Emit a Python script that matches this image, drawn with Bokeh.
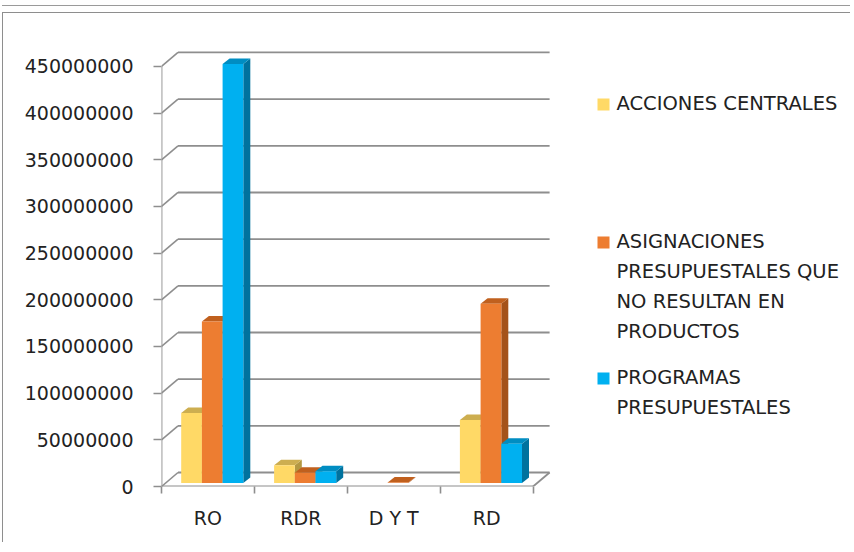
from bokeh.plotting import figure
from bokeh.models import FixedTicker, NumeralTickFormatter, Range1d
from bokeh.core.properties import value
from bokeh.embed import file_html
from bokeh.resources import INLINE

# ---------------- data ----------------
CATEGORIES = ["RO", "RDR", "D Y T", "RD"]
SERIES = ["ACCIONES CENTRALES",
          "ASIGNACIONES PRESUPUESTALES QUE NO RESULTAN EN PRODUCTOS",
          "PROGRAMAS PRESUPUESTALES"]
LEGEND_LINES = [["ACCIONES CENTRALES"],
                ["ASIGNACIONES", "PRESUPUESTALES QUE", "NO RESULTAN EN", "PRODUCTOS"],
                ["PROGRAMAS", "PRESUPUESTALES"]]
ACCIONES_CENTRALES = [75000000, 19000000, 0, 67500000]
ASIGNACIONES = [173000000, 11000000, 600000, 192000000]
PROGRAMAS = [449000000, 12500000, 0, 42000000]
Y_TICKS = [0, 50000000, 100000000, 150000000, 200000000, 250000000,
           300000000, 350000000, 400000000, 450000000]

SERIES_VALUES = [ACCIONES_CENTRALES, ASIGNACIONES, PROGRAMAS]
FRONT = ["#FFD966", "#ED7D31", "#00B0F0"]
TOP = ["#CDAE50", "#C0601E", "#008DC2"]
SIDE = ["#B39842", "#A4521A", "#00729E"]
GRID = "#8E8E8E"
TXT = "#222222"
FONT = "DejaVu Sans"

# ---------------- layout (pixel geometry of the picture) ----------------
W, H = 848, 530
OFF_X, OFF_Y = 3, 13         # where the canvas starts in the picture
AXIS_X = 161                 # picture x of the front value axis
FLOOR_Y = 486                # picture y of the front zero line
PX_CAT = 92.9                # pixels per category
PX_VAL = 46.67 / 50e6        # pixels per unit of value


def dx(px):
    return px / PX_CAT


def dy(px):
    return px / PX_VAL


def X(img_x):
    return (img_x - AXIS_X) / PX_CAT


def Y(img_y):
    return (FLOOR_Y - img_y) / PX_VAL


left_border = AXIS_X - OFF_X
bottom_border = H - (FLOOR_Y - OFF_Y)

p = figure(width=W, height=H, output_backend="svg", toolbar_location=None,
           x_range=Range1d(0, (W - left_border) / PX_CAT),
           y_range=Range1d(0, (FLOOR_Y - OFF_Y) / PX_VAL),
           min_border_left=left_border, min_border_right=0,
           min_border_top=0, min_border_bottom=bottom_border,
           styles={"margin-left": "2px", "margin-top": "12px",
                   "border-left": "1px solid #8E8E8E",
                   "border-top": "1px solid #8E8E8E",
                   "box-shadow": "0 -6px 0 0 #FFFFFF, 0 -7px 0 0 #9A9A9A"})
p.title.visible = False
p.outline_line_color = None
p.xgrid.visible = False
p.ygrid.visible = False
p.background_fill_color = "white"
p.border_fill_color = "white"

# ---------------- axes ----------------
ya = p.yaxis[0]
ya.ticker = FixedTicker(ticks=Y_TICKS)
ya.formatter = NumeralTickFormatter(format="0")
ya.axis_line_color = None
ya.major_tick_in = 0
ya.major_tick_out = 8
ya.major_tick_line_color = GRID
ya.major_tick_line_width = 1.6
ya.minor_tick_line_color = None
ya.major_label_standoff = 20
ya.major_label_text_font = FONT
ya.major_label_text_font_size = "19px"
ya.major_label_text_color = TXT

n = len(CATEGORIES)
xa = p.xaxis[0]
centers = [i + 0.5 for i in range(n)]
xa.ticker = FixedTicker(ticks=centers, minor_ticks=list(range(n + 1)))
xa.major_label_overrides = {c: lab for c, lab in zip(centers, CATEGORIES)}
xa.axis_line_color = None
xa.major_tick_line_color = None
xa.major_tick_in = 0
xa.major_tick_out = 0
xa.minor_tick_in = 0
xa.minor_tick_out = 7
xa.minor_tick_line_color = GRID
xa.minor_tick_line_width = 1.6
xa.major_label_standoff = 13
xa.major_label_text_font = FONT
xa.major_label_text_font_size = "19px"
xa.major_label_text_color = TXT

# ---------------- 3D walls ----------------
DXW, DYW = dx(16.5), dy(14)
p.segment(x0=[DXW] * len(Y_TICKS), y0=[v + DYW for v in Y_TICKS],
          x1=[n + DXW] * len(Y_TICKS), y1=[v + DYW for v in Y_TICKS],
          line_color=GRID, line_width=1.8)
p.segment(x0=[0] * len(Y_TICKS), y0=Y_TICKS,
          x1=[DXW] * len(Y_TICKS), y1=[v + DYW for v in Y_TICKS],
          line_color=GRID, line_width=1.6)
p.segment(x0=[0, n, 0], y0=[0, 0, 0], x1=[n, n + DXW, 0], y1=[0, DYW, Y_TICKS[-1]],
          line_color=GRID, line_width=1.8)

# ---------------- bars ----------------
BW = dx(20.7)
SX, SY = dx(4.3), dy(3.5)
BDX, BDY = dx(7), dy(5.5)

side_xs, side_ys, side_c = [], [], []
top_xs, top_ys, top_c = [], [], []
for i in range(n):
    for j, vals in enumerate(SERIES_VALUES):
        v = vals[i]
        if v <= 0:
            continue
        l = i + 0.5 + (j - 1.5) * BW + SX
        r = l + BW
        b = SY
        t = SY + v
        side_xs.append([r, r, r + BDX, r + BDX])
        side_ys.append([b, t, t + BDY, b + BDY])
        side_c.append(SIDE[j])
        top_xs.append([l, r, r + BDX, l + BDX])
        top_ys.append([t, t, t + BDY, t + BDY])
        top_c.append(TOP[j])

p.patches(xs=side_xs, ys=side_ys, fill_color=side_c, line_color=None)
p.patches(xs=top_xs, ys=top_ys, fill_color=top_c, line_color=None)

for j, vals in enumerate(SERIES_VALUES):
    xs = [i + 0.5 + (j - 1) * BW + SX for i in range(n) if vals[i] > 0]
    tops = [SY + vals[i] for i in range(n) if vals[i] > 0]
    p.vbar(x=xs, width=BW, bottom=SY, top=tops, fill_color=FRONT[j], line_color=None)

# ---------------- legend ----------------
LEG_FIRST_Y = [103, 241, 377]
LINE_STEP = 30
for j, lines in enumerate(LEGEND_LINES):
    p.rect(x=[X(603)], y=[Y(LEG_FIRST_Y[j] + 1)], width=dx(12), height=dy(12),
           fill_color=FRONT[j], line_color=None)
    p.text(x=[X(616)] * len(lines),
           y=[Y(LEG_FIRST_Y[j] + k * LINE_STEP) for k in range(len(lines))],
           text=lines, text_font=value(FONT), text_font_size="19.5px",
           text_color=TXT, text_align="left", text_baseline="middle")

open("out.html", "w").write(file_html(p, INLINE))
